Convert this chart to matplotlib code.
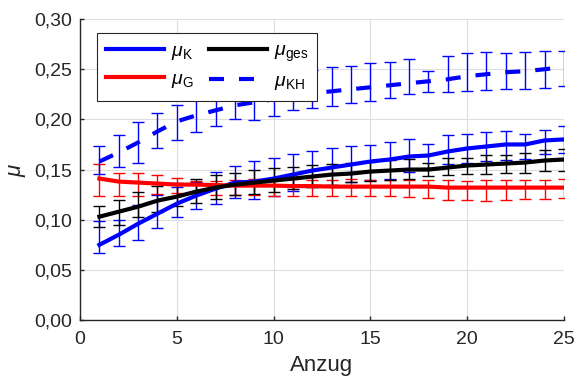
import numpy as np
import matplotlib
matplotlib.use("Agg")
import matplotlib.pyplot as plt
from matplotlib.ticker import FixedLocator, FuncFormatter

plt.rcParams["font.family"] = ["Liberation Sans", "DejaVu Sans"]
plt.rcParams["mathtext.fontset"] = "custom"
plt.rcParams["mathtext.rm"] = "Liberation Sans"
plt.rcParams["mathtext.it"] = "Liberation Sans:italic"

anzug = np.arange(1, 26)

# Mittelwerte je Anzug
mu_k = [0.075, 0.085, 0.096, 0.106, 0.116, 0.124, 0.131, 0.137, 0.138, 0.141,
        0.145, 0.149, 0.152, 0.155, 0.158, 0.160, 0.163, 0.164, 0.168, 0.171,
        0.173, 0.175, 0.175, 0.179, 0.180]
mu_g = [0.141, 0.138, 0.137, 0.136, 0.135, 0.135, 0.1345, 0.134, 0.134, 0.134,
        0.1335, 0.1335, 0.133, 0.133, 0.133, 0.133, 0.133, 0.133, 0.132, 0.132,
        0.132, 0.132, 0.132, 0.132, 0.132]
mu_ges = [0.103, 0.108, 0.113, 0.119, 0.123, 0.128, 0.132, 0.135, 0.137, 0.139,
          0.141, 0.143, 0.145, 0.146, 0.148, 0.149, 0.150, 0.150, 0.152, 0.154,
          0.155, 0.156, 0.157, 0.159, 0.160]
mu_kh = [0.158, 0.167, 0.177, 0.188, 0.198, 0.204, 0.209, 0.214, 0.217, 0.220,
         0.223, 0.226, 0.228, 0.230, 0.232, 0.234, 0.236, 0.238, 0.240, 0.243,
         0.245, 0.247, 0.248, 0.250, 0.252]

# Streubereiche (untere / obere Grenze)
k_lo = [0.067, 0.074, 0.080, 0.092, 0.103, 0.111, 0.116, 0.122, 0.121, 0.124,
        0.129, 0.133, 0.135, 0.138, 0.140, 0.141, 0.148, 0.152, 0.156, 0.157,
        0.159, 0.160, 0.161, 0.165, 0.166]
k_hi = [0.099, 0.100, 0.115, 0.125, 0.133, 0.138, 0.148, 0.154, 0.159, 0.162,
        0.165, 0.168, 0.171, 0.173, 0.174, 0.177, 0.180, 0.175, 0.184, 0.185,
        0.187, 0.188, 0.185, 0.189, 0.193]
g_lo = [0.124, 0.124, 0.124, 0.126, 0.127, 0.127, 0.125, 0.125, 0.125, 0.124,
        0.124, 0.124, 0.124, 0.124, 0.124, 0.124, 0.123, 0.122, 0.120, 0.120,
        0.119, 0.120, 0.121, 0.121, 0.122]
g_hi = [0.156, 0.147, 0.147, 0.1445, 0.142, 0.1385, 0.1385, 0.140, 0.141, 0.141,
        0.141, 0.140, 0.140, 0.141, 0.140, 0.140, 0.140, 0.1395, 0.1395, 0.139,
        0.1395, 0.1395, 0.1395, 0.1395, 0.141]
ges_lo = [0.093, 0.095, 0.103, 0.108, 0.114, 0.117, 0.121, 0.125, 0.126, 0.128,
          0.131, 0.133, 0.135, 0.138, 0.1385, 0.140, 0.141, 0.144, 0.145, 0.146,
          0.146, 0.147, 0.147, 0.1485, 0.149]
ges_hi = [0.114, 0.120, 0.128, 0.134, 0.137, 0.141, 0.1445, 0.147, 0.150, 0.152,
          0.153, 0.155, 0.156, 0.157, 0.158, 0.1595, 0.161, 0.157, 0.162, 0.162,
          0.1645, 0.1645, 0.166, 0.169, 0.170]
kh_lo = [0.146, 0.153, 0.157, 0.171, 0.179, 0.187, 0.193, 0.200, 0.199, 0.203,
         0.209, 0.211, 0.213, 0.216, 0.218, 0.221, 0.225, 0.227, 0.227, 0.228,
         0.229, 0.230, 0.230, 0.231, 0.233]
kh_hi = [0.173, 0.184, 0.197, 0.206, 0.214, 0.219, 0.225, 0.230, 0.235, 0.240,
         0.245, 0.249, 0.2525, 0.2535, 0.256, 0.2575, 0.260, 0.248, 0.2635, 0.266,
         0.2674, 0.2664, 0.2674, 0.2684, 0.2684]

x_ticks = [0, 5, 10, 15, 20, 25]
y_ticks = [0.0, 0.05, 0.10, 0.15, 0.20, 0.25, 0.30]

BLUE = "#0000ff"
RED = "#ff0000"
BLACK = "#000000"
TXT = "#262626"

fig = plt.figure(figsize=(5.76, 3.81), dpi=100)
ax = fig.add_axes([0.139, 0.160, 0.840, 0.790])


def bars(lo, hi, color):
    lo = np.asarray(lo)
    hi = np.asarray(hi)
    mid = (lo + hi) / 2
    ax.errorbar(anzug, mid, yerr=[mid - lo, hi - mid], fmt="none",
                ecolor=color, elinewidth=1.0, capsize=4.2, capthick=1.0,
                zorder=2)


bars(k_lo, k_hi, BLUE)
bars(g_lo, g_hi, RED)
bars(ges_lo, ges_hi, BLACK)
bars(kh_lo, kh_hi, BLUE)

h_k, = ax.plot(anzug, mu_k, color=BLUE, lw=3, zorder=3,
               label=r"$\mu_\mathrm{K}$")
h_g, = ax.plot(anzug, mu_g, color=RED, lw=3, zorder=3,
               label=r"$\mu_\mathrm{G}$")
h_ges, = ax.plot(anzug, mu_ges, color=BLACK, lw=3, zorder=3,
                 label=r"$\mu_\mathrm{ges}$")
h_kh, = ax.plot(anzug, mu_kh, color=BLUE, lw=3, zorder=3,
                dashes=(3.6, 3.6), label=r"$\mu_\mathrm{KH}$")

ax.set_xlim(0, 25)
ax.set_ylim(0, 0.30)
ax.xaxis.set_major_locator(FixedLocator(x_ticks))
ax.yaxis.set_major_locator(FixedLocator(y_ticks))
ax.yaxis.set_major_formatter(FuncFormatter(lambda v, p: f"{v:.2f}".replace(".", ",")))

ax.grid(True, color="#dedede", lw=0.8)
ax.set_axisbelow(True)
for side in ("top", "right"):
    ax.spines[side].set_visible(False)
for side in ("left", "bottom"):
    ax.spines[side].set_color(TXT)
    ax.spines[side].set_linewidth(1.0)
ax.tick_params(direction="in", length=3, width=1, color=TXT,
               labelcolor=TXT, labelsize=14)
ax.tick_params(axis="x", pad=8)
ax.tick_params(axis="y", pad=6)

ax.set_xlabel("Anzug", fontsize=16, color=TXT, labelpad=5)
ax.set_ylabel(r"$\mu$", fontsize=16, color=TXT, labelpad=4)

leg = ax.legend(handles=[h_k, h_g, h_ges, h_kh], ncol=2, loc="upper left",
                bbox_to_anchor=(0.035, 0.953), borderaxespad=0,
                fancybox=False, framealpha=1, edgecolor=TXT,
                fontsize=14, handlelength=3.0, handletextpad=0.35,
                columnspacing=0.8, labelspacing=0.45, borderpad=0.45)
leg.get_frame().set_linewidth(0.8)
leg.set_zorder(5)

fig.savefig("out.png", dpi=100)
